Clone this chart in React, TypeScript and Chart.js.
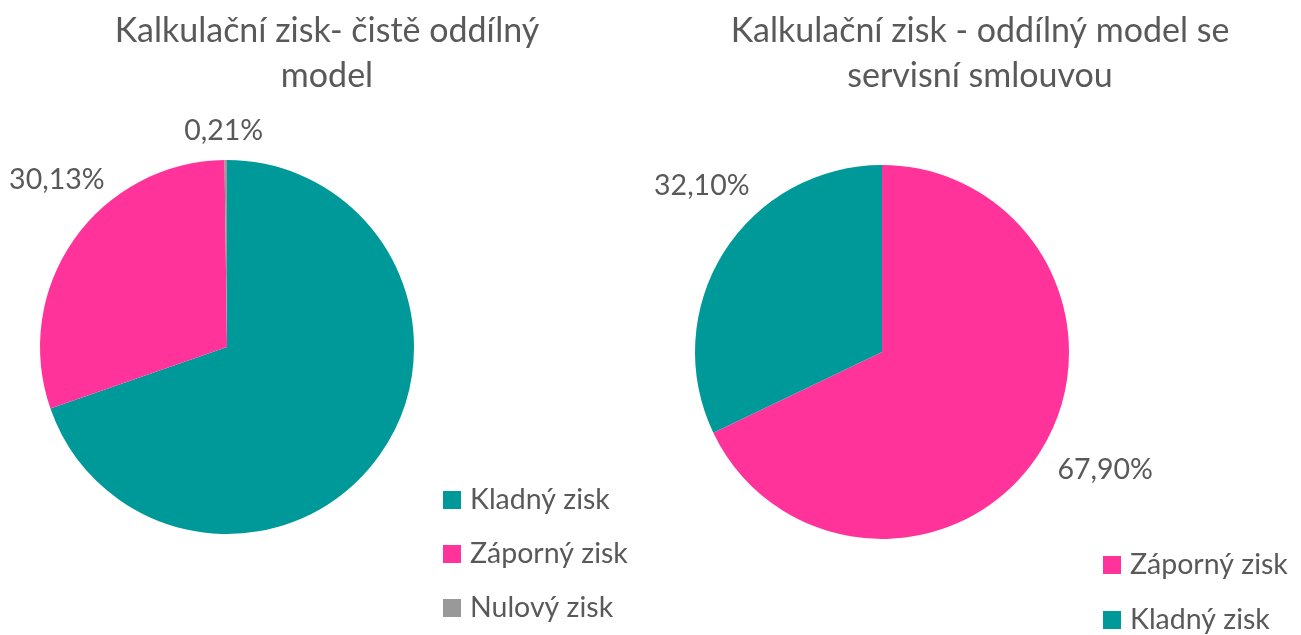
import React, { useEffect, useRef } from 'react';
import { Chart, registerables } from 'chart.js';

Chart.register(...registerables);

// ---- Data ----
const leftTitle = ['Kalkulační zisk- čistě oddílný', 'model'];
const leftCategories = ['Kladný zisk', 'Záporný zisk', 'Nulový zisk'];
const leftValues = [69.66, 30.13, 0.21];
const leftShowLabel = [false, true, true];

const rightTitle = ['Kalkulační zisk - oddílný model se', 'servisní smlouvou'];
const rightCategories = ['Záporný zisk', 'Kladný zisk'];
const rightValues = [67.9, 32.1];
const rightShowLabel = [true, true];

const TEAL = '#009999';
const PINK = '#FF3399';
const GREY = '#999999';
const TEXT = '#595959';
const FONT = 'Lato, "Open Sans", sans-serif';

const colorFor: Record<string, string> = {
  'Kladný zisk': TEAL,
  'Záporný zisk': PINK,
  'Nulový zisk': GREY,
};

const fmt = (v: number) => v.toFixed(2).replace('.', ',') + '%';

type Cfg = {
  left: number;
  width: number;
  padding: { left: number; right: number; top: number; bottom: number };
  title: string[];
  titleX: number;
  titleY: number[];
  categories: string[];
  values: number[];
  showLabel: boolean[];
  labelOffsets: [number, number][];
  legendX: number;
  legendY: number[];
};

const overlayPlugin = {
  id: 'overlay',
  afterDraw(chart: any, _args: any, opts: any) {
    const cfg: Cfg = opts.cfg;
    const ctx = chart.ctx;
    ctx.save();
    ctx.fillStyle = TEXT;
    // Title
    ctx.font = `34px ${FONT}`;
    ctx.textAlign = 'center';
    ctx.textBaseline = 'middle';
    cfg.title.forEach((t, i) => ctx.fillText(t, cfg.titleX, cfg.titleY[i]));
    // Data labels
    ctx.font = `28.5px ${FONT}`;
    const meta = chart.getDatasetMeta(0);
    meta.data.forEach((arc: any, i: number) => {
      if (!cfg.showLabel[i]) return;
      const p = arc.getProps(['x', 'y', 'startAngle', 'endAngle', 'outerRadius'], true);
      const mid = (p.startAngle + p.endAngle) / 2;
      const ex = p.x + Math.cos(mid) * p.outerRadius;
      const ey = p.y + Math.sin(mid) * p.outerRadius;
      const [ox, oy] = cfg.labelOffsets[i];
      ctx.fillStyle = TEXT;
      ctx.fillText(fmt(cfg.values[i]), ex + ox, ey + oy);
    });
    // Legend
    ctx.font = `28.5px ${FONT}`;
    ctx.textAlign = 'left';
    cfg.categories.forEach((c, i) => {
      const y = cfg.legendY[i];
      ctx.fillStyle = colorFor[c];
      ctx.fillRect(cfg.legendX, y - 9, 18, 18);
      ctx.fillStyle = TEXT;
      ctx.fillText(c, cfg.legendX + 27, y);
    });
    ctx.restore();
  },
};

function PieCanvas({ cfg }: { cfg: Cfg }) {
  const ref = useRef<HTMLCanvasElement>(null);
  useEffect(() => {
    if (!ref.current) return;
    const chart = new Chart(ref.current, {
      type: 'pie',
      data: {
        labels: cfg.categories,
        datasets: [
          {
            data: cfg.values,
            backgroundColor: cfg.categories.map((c) => colorFor[c]),
            borderWidth: 0,
          },
        ],
      },
      options: {
        animation: false,
        responsive: false,
        layout: { padding: cfg.padding },
        plugins: {
          legend: { display: false },
          title: { display: false },
          tooltip: { enabled: false },
          overlay: { cfg },
        } as any,
      },
      plugins: [overlayPlugin],
    });
    return () => chart.destroy();
  }, [cfg]);
  return (
    <canvas
      ref={ref}
      width={cfg.width}
      height={635}
      style={{ position: 'absolute', left: cfg.left, top: 0, width: cfg.width, height: 635 }}
    />
  );
}

const leftCfg: Cfg = {
  left: 0,
  width: 650,
  padding: { left: 40, right: 236, top: 160, bottom: 101 },
  title: leftTitle,
  titleX: 327,
  titleY: [31, 76],
  categories: leftCategories,
  values: leftValues,
  showLabel: leftShowLabel,
  labelOffsets: [
    [0, 0],
    [-17, -60],
    [-2, -29],
  ],
  legendX: 443,
  legendY: [500, 554, 608],
};

const rightCfg: Cfg = {
  left: 650,
  width: 651,
  padding: { left: 45, right: 232, top: 165, bottom: 96 },
  title: rightTitle,
  titleX: 330,
  titleY: [31, 76],
  categories: rightCategories,
  values: rightValues,
  showLabel: rightShowLabel,
  labelOffsets: [
    [65, 18],
    [-22, -66],
  ],
  legendX: 453,
  legendY: [565, 620],
};

export default function App() {
  return (
    <div style={{ position: 'absolute', left: 0, top: 0, width: 1301, height: 635, background: '#fff' }}>
      <PieCanvas cfg={leftCfg} />
      <PieCanvas cfg={rightCfg} />
    </div>
  );
}
